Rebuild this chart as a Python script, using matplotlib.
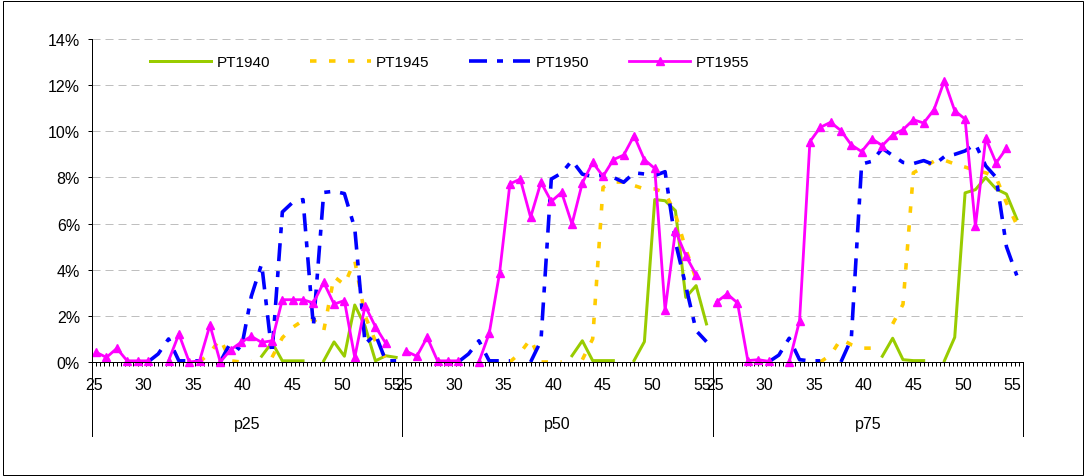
import numpy as np
import matplotlib
matplotlib.use('Agg')
import matplotlib.pyplot as plt
from matplotlib.transforms import blended_transform_factory
from matplotlib.patches import Rectangle

plt.rcParams['font.family'] = ['Liberation Sans', 'DejaVu Sans']
plt.rcParams['lines.scale_dashes'] = False

nan = np.nan

# categories: ages 25..54 inside each percentile group
ages = list(range(25, 55))
groups = ['p25', 'p50', 'p75']
age_labels = ['25', '30', '35', '40', '45', '50', '55']
y_ticks = [0, 2, 4, 6, 8, 10, 12, 14]

# values in percent
pt1940_p25 = [nan] * 16 + [0.25, 0.85, 0.05, 0.05, 0.05, nan, 0.05, 0.87, 0.25, 2.47, 1.55, 0.05, 0.27, 0.2]
pt1940_p50 = [nan] * 16 + [0.27, 0.92, 0.06, 0.06, 0.06, nan, 0.06, 0.88, 7.04, 6.99, 6.56, 2.8, 3.31, 1.65]
pt1940_p75 = [nan] * 16 + [0.25, 1.03, 0.1, 0.06, 0.06, nan, 0.05, 1.07, 7.33, 7.47, 8.0, 7.5, 7.28, 6.2]

pt1945_p25 = [nan] * 10 + [0.0, 0.4, 1.0, 0.05, 0.0, 0.05, nan, 0.2, 1.05, 1.5, 1.8, 1.85, 1.35, 3.7,
                           3.35, 4.4, 2.0, 0.9, 0.15, 0.05]
pt1945_p50 = [nan] * 10 + [0.0, 0.4, 1.0, 0.0, 0.0, 0.0, nan, 0.1, 1.0, 7.57, 7.8, 7.8, 7.65, 7.5,
                           7.5, 7.35, 6.4, 4.9, 3.6, nan]
pt1945_p75 = [nan] * 10 + [0.0, 0.3, 1.0, 0.75, 0.6, 0.6, nan, 1.65, 2.5, 8.2, 8.45, 8.7, 8.75, 8.58,
                           8.45, 8.3, 8.2, 8.0, 6.9, 5.95]

pt1950_p25 = [nan] * 5 + [0.0, 0.35, 1.0, 0.05, 0.05, 0.05, nan, 0.0, 0.85, 0.5, 2.85, 4.25, 0.35, 6.5,
                          6.92, 7.04, 1.55, 7.35, 7.4, 7.3, 5.8, 0.78, 1.2, 0.05, 0.05]
pt1950_p50 = [nan] * 5 + [0.0, 0.35, 0.92, 0.05, 0.05, 0.05, nan, 0.0, 0.92, 7.93, 8.19, 8.73, 8.14, 8.05,
                          8.1, 8.0, 7.79, 8.2, 8.15, 8.08, 8.25, 5.2, 3.3, 1.36, 0.88]
pt1950_p75 = [nan] * 5 + [0.0, 0.3, 1.03, 0.1, 0.05, 0.05, nan, 0.0, 1.0, 8.58, 8.7, 9.26, 8.95, 8.65,
                          8.6, 8.73, 8.55, 8.9, 9.0, 9.15, 9.45, 8.5, 8.0, 5.0, 3.75]

pt1955_p25 = [0.42, 0.2, 0.59, 0.05, 0.05, 0.05, nan, 0.05, 1.21, 0.0, 0.05, 1.6, 0.0, 0.53, 0.85,
              1.11, 0.85, 0.92, 2.7, 2.7, 2.7, 2.56, 3.45, 2.51, 2.66, 0.2, 2.44, 1.53, 0.81, nan]
pt1955_p50 = [0.46, 0.25, 1.07, 0.05, 0.05, 0.05, nan, 0.0, 1.24, 3.86, 7.72, 7.93, 6.27, 7.79, 6.96,
              7.35, 5.98, 7.76, 8.65, 8.05, 8.77, 8.97, 9.81, 8.77, 8.39, 2.25, 5.69, 4.61, 3.78, nan]
pt1955_p75 = [2.61, 2.95, 2.56, 0.06, 0.1, 0.03, nan, 0.0, 1.79, 9.55, 10.17, 10.39, 10.03, 9.41, 9.12,
              9.67, 9.38, 9.84, 10.07, 10.5, 10.36, 10.94, 12.19, 10.89, 10.53, 5.88, 9.7, 8.63, 9.26, nan]

W, H = 1087, 477
px = 72 / 100  # points per pixel

fig = plt.figure(figsize=(W / 100, H / 100), dpi=100)
ax = fig.add_axes([92 / W, (H - 363) / H, (1023 - 92) / W, 323 / H])

n = len(ages)
xs = np.concatenate([g * n + np.arange(n) for g in range(len(groups))])

ax.plot(xs, pt1940_p25 + pt1940_p50 + pt1940_p75, color='#99CC00', lw=3 * px,
        solid_joinstyle='round', label='PT1940')
ax.plot(xs, pt1945_p25 + pt1945_p50 + pt1945_p75, color='#FFCC00', lw=3.6 * px,
        dashes=(6.5 * px, 12.5 * px), dash_capstyle='butt', label='PT1945')
ax.plot(xs, pt1950_p25 + pt1950_p50 + pt1950_p75, color='#0000FF', lw=3.6 * px,
        dashes=(18 * px, 10 * px, 6 * px, 10 * px), dash_capstyle='butt', label='PT1950')
ax.plot(xs, pt1955_p25 + pt1955_p50 + pt1955_p75, color='#FF00FF', lw=2.8 * px,
        marker='^', ms=8 * px, label='PT1955', clip_on=False)

# excel style category axis: 75 small categories per group, label every 12th
fine = 2.5
ax.set_xlim(-1 / fine, len(groups) * n - 1 / fine)
ax.set_ylim(0, 14)
ax.set_xticks(-1 / fine + np.arange(len(groups) * 75 + 1) / fine, minor=True)
lab_pos = [g * n - 1 / fine + (12 * k + 0.5) / fine for g in range(len(groups)) for k in range(len(age_labels))]
ax.set_xticks(lab_pos)
ax.set_xticklabels(age_labels * len(groups))
ax.tick_params(axis='x', which='major', length=0, pad=15 * px, labelsize=11.5)
ax.tick_params(axis='x', which='minor', length=4 * px, width=px, direction='out')
ax.set_yticks(y_ticks)
ax.set_yticklabels([f'{v}%' for v in y_ticks])
ax.tick_params(axis='y', length=4 * px, width=px, pad=8 * px, labelsize=11.5)

for s in ['top', 'right']:
    ax.spines[s].set_visible(False)
for s in ['left', 'bottom']:
    ax.spines[s].set_linewidth(px)
    ax.spines[s].set_color('black')

ax.set_axisbelow(True)
ax.grid(axis='y', color='#BFBFBF', lw=px, linestyle=(0, (8 * px, 5 * px)))

trans = blended_transform_factory(ax.transData, ax.transAxes)
for g in range(len(groups) + 1):
    xb = g * n - 1 / fine
    ax.plot([xb, xb], [0, -74 / 323], transform=trans, color='black', lw=px, clip_on=False)
for g, name in enumerate(groups):
    ax.text(g * n - 1 / fine + n / 2, -62 / 323, name, transform=trans, ha='center', va='center',
            fontsize=11.5)

ax.legend(loc='upper left', bbox_to_anchor=(150 / W, 1 - 56 / H), bbox_transform=fig.transFigure,
          ncol=4, frameon=False, handlelength=4.0, handletextpad=0.35, columnspacing=2.6,
          fontsize=11, numpoints=1, borderaxespad=0, borderpad=0)

fig.patches.append(Rectangle((2.5 / W, 1.5 / H), (1083 - 2.5) / W, (475.5 - 1.5) / H,
                             transform=fig.transFigure, fill=False, ec='black', lw=px))

fig.savefig('out.png', dpi=100)
